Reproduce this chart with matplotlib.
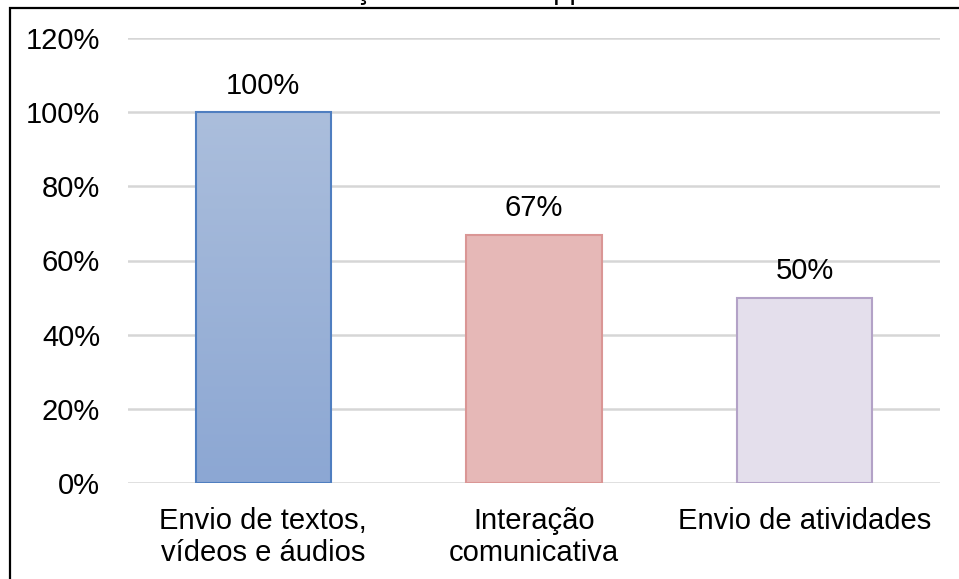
import matplotlib
matplotlib.use("Agg")
import matplotlib.pyplot as plt
import numpy as np
from matplotlib.patches import Rectangle
from matplotlib.colors import LinearSegmentedColormap

categories = ["Envio de textos,\nvídeos e áudios", "Interação\ncomunicativa", "Envio de atividades"]
values = [1.00, 0.67, 0.50]
value_labels = ["100%", "67%", "50%"]
yticks = [0, 0.2, 0.4, 0.6, 0.8, 1.0, 1.2]
ytick_labels = ["0%", "20%", "40%", "60%", "80%", "100%", "120%"]
title = "Utilização do WhatsApp"

plt.rcParams['font.family'] = ['Liberation Sans', 'DejaVu Sans']

W, H = 959, 579
fig = plt.figure(figsize=(W / 100, H / 100), dpi=100)
fig.patch.set_facecolor("white")

# outer frame (cropped on the right and bottom)
frame = Rectangle((10 / W, -0.05), 1.2, 1 - 8 / H + 0.05, transform=fig.transFigure,
                  fill=False, edgecolor="black", linewidth=1.6, zorder=0)
fig.patches.append(frame)

# cut-off title (only descenders visible)
fig.text(276 / W, 1 + 1.0 / H, title, ha="left", va="baseline", fontsize=21, color="black")

ax = fig.add_axes([128 / W, 1 - 483 / H, (940 - 128) / W, (483 - 38) / H])
ax.set_facecolor("none")

x = np.arange(len(categories))
fills = ["#9DB2D8", "#E6B8B7", "#E4DFEC"]
edges = ["#4F7EC0", "#DA9695", "#B3A2C7"]
bars = ax.bar(x, values, width=0.5, color=fills, edgecolor=edges, linewidth=1.5, zorder=3)

# gradient for the first bar
cmap = LinearSegmentedColormap.from_list("g", ["#8CA7D3", "#ABBEDC"])
b = bars[0]
grad = np.linspace(0, 1, 256).reshape(-1, 1)
im = ax.imshow(grad, cmap=cmap, origin="lower", aspect="auto",
               extent=[b.get_x(), b.get_x() + b.get_width(), 0, b.get_height()], zorder=2.9)
im.set_clip_path(b)
b.set_facecolor("none")

ax.set_xlim(-0.5, 2.5)
ax.set_ylim(0, 1.2)
ax.set_yticks(yticks)
ax.set_yticklabels(ytick_labels)
ax.set_xticks(x)
ax.set_xticklabels(categories, linespacing=1.2)
ax.tick_params(axis="both", length=0, labelsize=21, colors="black")
ax.tick_params(axis="y", pad=20)
ax.tick_params(axis="x", pad=17)

for s in ax.spines.values():
    s.set_visible(False)
ax.yaxis.grid(True, color="#D6D6D6", linewidth=1.8, zorder=0)
ax.set_axisbelow(True)

for xi, v, lab in zip(x, values, value_labels):
    ax.annotate(lab, (xi, v), xytext=(0, 9), textcoords="offset points",
                ha="center", va="bottom", fontsize=21, color="black")

fig.savefig("out.png", dpi=100)
